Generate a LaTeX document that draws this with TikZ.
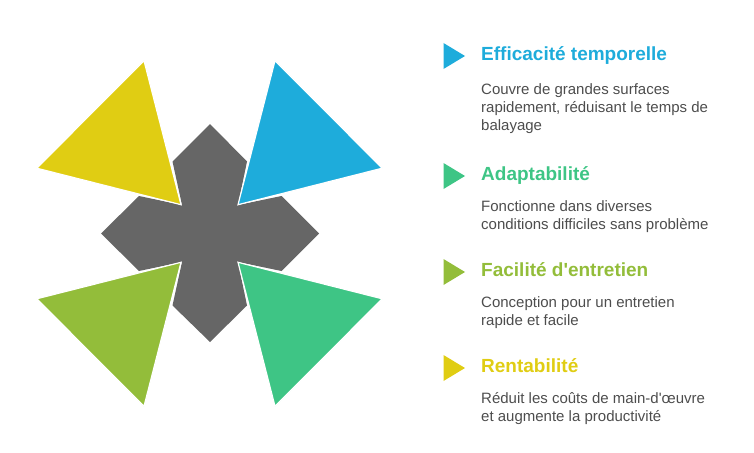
\documentclass[tikz,border=0pt]{standalone}
\usepackage{fontspec}
\setmainfont{Liberation Sans}[Ligatures=TeXOff]
\definecolor{cblue}{HTML}{1EACDB}
\definecolor{cgreen}{HTML}{3EC585}
\definecolor{clime}{HTML}{93BD3A}
\definecolor{cyell}{HTML}{E0CD13}
\definecolor{cgray}{HTML}{666666}
\definecolor{ctext}{HTML}{4D4D4D}
\tikzset{
  bigtri/.style={draw=white,line width=1.2pt,line join=miter},
  headtext/.style={anchor=base west,inner sep=0pt,font=\fontsize{19}{21}\selectfont\bfseries},
  bodytext/.style={anchor=north west,inner sep=0pt,align=left,text=ctext,font=\fontsize{15}{18}\selectfont},
}
\newcommand{\fl}{\rule{0pt}{12pt}}
\begin{document}
\begin{tikzpicture}[x=1pt,y=-1pt]
\useasboundingbox (0,0) rectangle (754,452);
\fill[cgray] (210,124) -- (247,161.5) -- (238,205) -- (281.5,196) -- (319,233.5) -- (281.5,271) -- (238,262) -- (247,305.5) -- (210,342) -- (172.5,305.5) -- (182,262) -- (139,271) -- (101,233.5) -- (139,196) -- (182,205) -- (172.5,161.5) -- cycle;
\filldraw[bigtri,fill=cyell] (144,60.7) -- (36.8,168.2) -- (181,204.7) -- cycle;
\filldraw[bigtri,fill=cblue] (275,60.7) -- (382.2,168.2) -- (238,204.7) -- cycle;
\filldraw[bigtri,fill=clime] (36.8,298.8) -- (144,406.3) -- (181,262.3) -- cycle;
\filldraw[bigtri,fill=cgreen] (382.2,298.8) -- (275,406.3) -- (238,262.3) -- cycle;
\fill[cblue] (443.5,43) -- (465,56) -- (443.5,69) -- cycle;
\fill[cgreen] (443.5,163) -- (465,176) -- (443.5,189) -- cycle;
\fill[clime] (443.5,259) -- (465,272) -- (443.5,285) -- cycle;
\fill[cyell] (443.5,355) -- (465,368) -- (443.5,381) -- cycle;
\node[headtext,text=cblue] (h1) at (481,60) {Efficacité temporelle};
\node[headtext,text=cgreen] (h2) at (481,180) {Adaptabilité};
\node[headtext,text=clime] (h3) at (481,276) {Facilité d'entretien};
\node[headtext,text=cyell] (h4) at (481,372) {Rentabilité};
\node[bodytext] (b1) at (481,82.3) {\fl Couvre de grandes surfaces\\rapidement, réduisant le temps de\\balayage};
\node[bodytext] (b2) at (481,199.3) {\fl Fonctionne dans diverses\\conditions difficiles sans problème};
\node[bodytext] (b3) at (481,295.5) {\fl Conception pour un entretien\\rapide et facile};
\node[bodytext] (b4) at (481,391.3) {\fl Réduit les coûts de main-d'œuvre\\et augmente la productivité};
\end{tikzpicture}
\end{document}
